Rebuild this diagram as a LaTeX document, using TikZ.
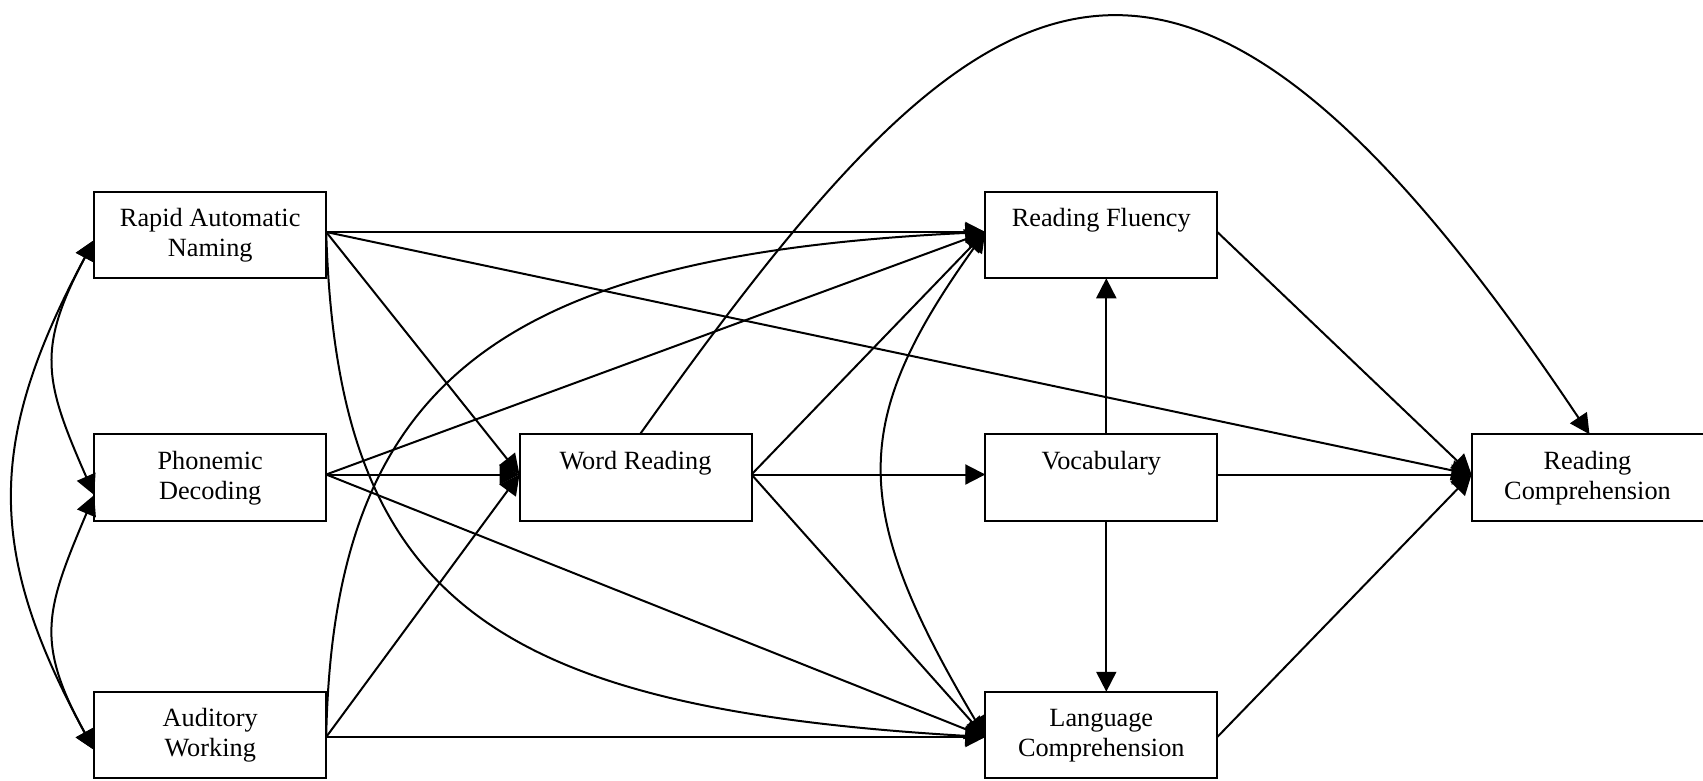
\documentclass[tikz,border=0pt]{standalone}
\usepackage{fontspec}
\setmainfont{Liberation Serif}
\usetikzlibrary{arrows.meta}
\begin{document}
\begin{tikzpicture}[x=1pt,y=-1pt,
  box/.style={draw, line width=2pt, minimum width=232pt, minimum height=86.5pt, inner sep=0pt, outer sep=0pt},
  lbl/.style={inner sep=0pt, font=\fontsize{26.3pt}{30pt}\selectfont, anchor=base},
  edge/.style={line width=2pt},
  arr/.style={edge, -{Triangle[length=20pt,width=20pt]}},
  darr/.style={edge, {Triangle[length=20pt,width=20pt]}-{Triangle[length=20pt,width=20pt]}}]
\fill[white] (0,0) rectangle (1703,780);
\useasboundingbox (0,0) rectangle (1703,780);

% boxes
\node[box] (ran) at (210.2,235) {};
\node[box] (pd)  at (210.2,477.5) {};
\node[box] (aw)  at (210.2,735) {};
\node[box] (wr)  at (635.5,477.5) {};
\node[box] (rf)  at (1101.3,235) {};
\node[box] (vo)  at (1101.3,477.5) {};
\node[box] (lc)  at (1101.3,735) {};
\node[box] (rc)  at (1587.5,477.5) {};

% labels
\node[lbl] (ranT) at ([yshift=-35pt]ran.north) {\begin{tabular}[t]{@{}c@{}}Rapid Automatic\\Naming\end{tabular}};
\node[lbl] (pdT)  at ([yshift=-35pt]pd.north)  {\begin{tabular}[t]{@{}c@{}}Phonemic\\Decoding\end{tabular}};
\node[lbl] (awT)  at ([yshift=-35pt]aw.north)  {\begin{tabular}[t]{@{}c@{}}Auditory\\Working\end{tabular}};
\node[lbl] (wrT)  at ([yshift=-35pt]wr.north)  {Word Reading};
\node[lbl] (rfT)  at ([yshift=-35pt]rf.north)  {Reading Fluency};
\node[lbl] (voT)  at ([yshift=-35pt]vo.north)  {Vocabulary};
\node[lbl] (lcT)  at ([yshift=-35pt]lc.north)  {\begin{tabular}[t]{@{}c@{}}Language\\Comprehension\end{tabular}};
\node[lbl] (rcT)  at ([yshift=-35pt]rc.north)  {\begin{tabular}[t]{@{}c@{}}Reading\\Comprehension\end{tabular}};

% attachment points
\coordinate (ranE) at ([yshift=3pt]ran.east);
\coordinate (pdE)  at ([yshift=3pt]pd.east);
\coordinate (awE)  at ([yshift=-2pt]aw.east);
\coordinate (wrW)  at ([yshift=3pt]wr.west);
\coordinate (wrE)  at ([yshift=3pt]wr.east);
\coordinate (wrN)  at ([xshift=4.5pt]wr.north);
\coordinate (rfW)  at ([yshift=3pt]rf.west);
\coordinate (rfE)  at ([yshift=3pt]rf.east);
\coordinate (rfS)  at ([xshift=5pt]rf.south);
\coordinate (voW)  at ([yshift=3pt]vo.west);
\coordinate (voE)  at ([yshift=3pt]vo.east);
\coordinate (voN)  at ([xshift=5pt]vo.north);
\coordinate (voS)  at ([xshift=5pt]vo.south);
\coordinate (lcW)  at ([yshift=-2pt]lc.west);
\coordinate (lcE)  at ([yshift=-2pt]lc.east);
\coordinate (lcN)  at ([xshift=5pt]lc.north);
\coordinate (rcW)  at ([yshift=3pt]rc.west);
\coordinate (rcN)  at ([xshift=2pt]rc.north);
\coordinate (ranC) at ([yshift=-5pt]ran.west);
\coordinate (pdC)  at ([yshift=-17.5pt]pd.west);
\coordinate (awC)  at ([yshift=-15pt]aw.west);

% paths
\draw[arr] (ranE) -- (rfW);
\draw[arr] (ranE) -- (wrW);
\draw[arr] (ranE) -- (rcW);
\draw[arr] (ranE) .. controls +(11,368) and +(-495,-29) .. (lcW);
\draw[arr] (pdE) -- (rfW);
\draw[arr] (pdE) -- (wrW);
\draw[arr] (pdE) -- (lcW);
\draw[arr] (awE) .. controls +(7,-357) and +(-485,23) .. (rfW);
\draw[arr] (awE) -- (wrW);
\draw[arr] (awE) -- (lcW);
\draw[arr] (wrE) -- (rfW);
\draw[arr] (wrE) -- (voW);
\draw[arr] (wrE) -- (lcW);
\draw[arr] (wrN) .. controls +(340,-478) and +(-420,-628) .. (rcN);
\draw[arr] (voN) -- (rfS);
\draw[arr] (voS) -- (lcN);
\draw[arr] (rfE) -- (rcW);
\draw[arr] (voE) -- (rcW);
\draw[arr] (lcE) -- (rcW);
\draw[darr] (rfW) .. controls +(-136,190) and +(-136,-229) .. (lcW);
\draw[darr] (ranC) .. controls +(-107,200) and +(-109,-200) .. (awC);
\draw[darr] (ranC) .. controls +(-58,109) and +(-50,-114) .. (pdC);
\draw[darr] (pdC) .. controls +(-48,114) and +(-60,-109) .. (awC);
\end{tikzpicture}
\end{document}
